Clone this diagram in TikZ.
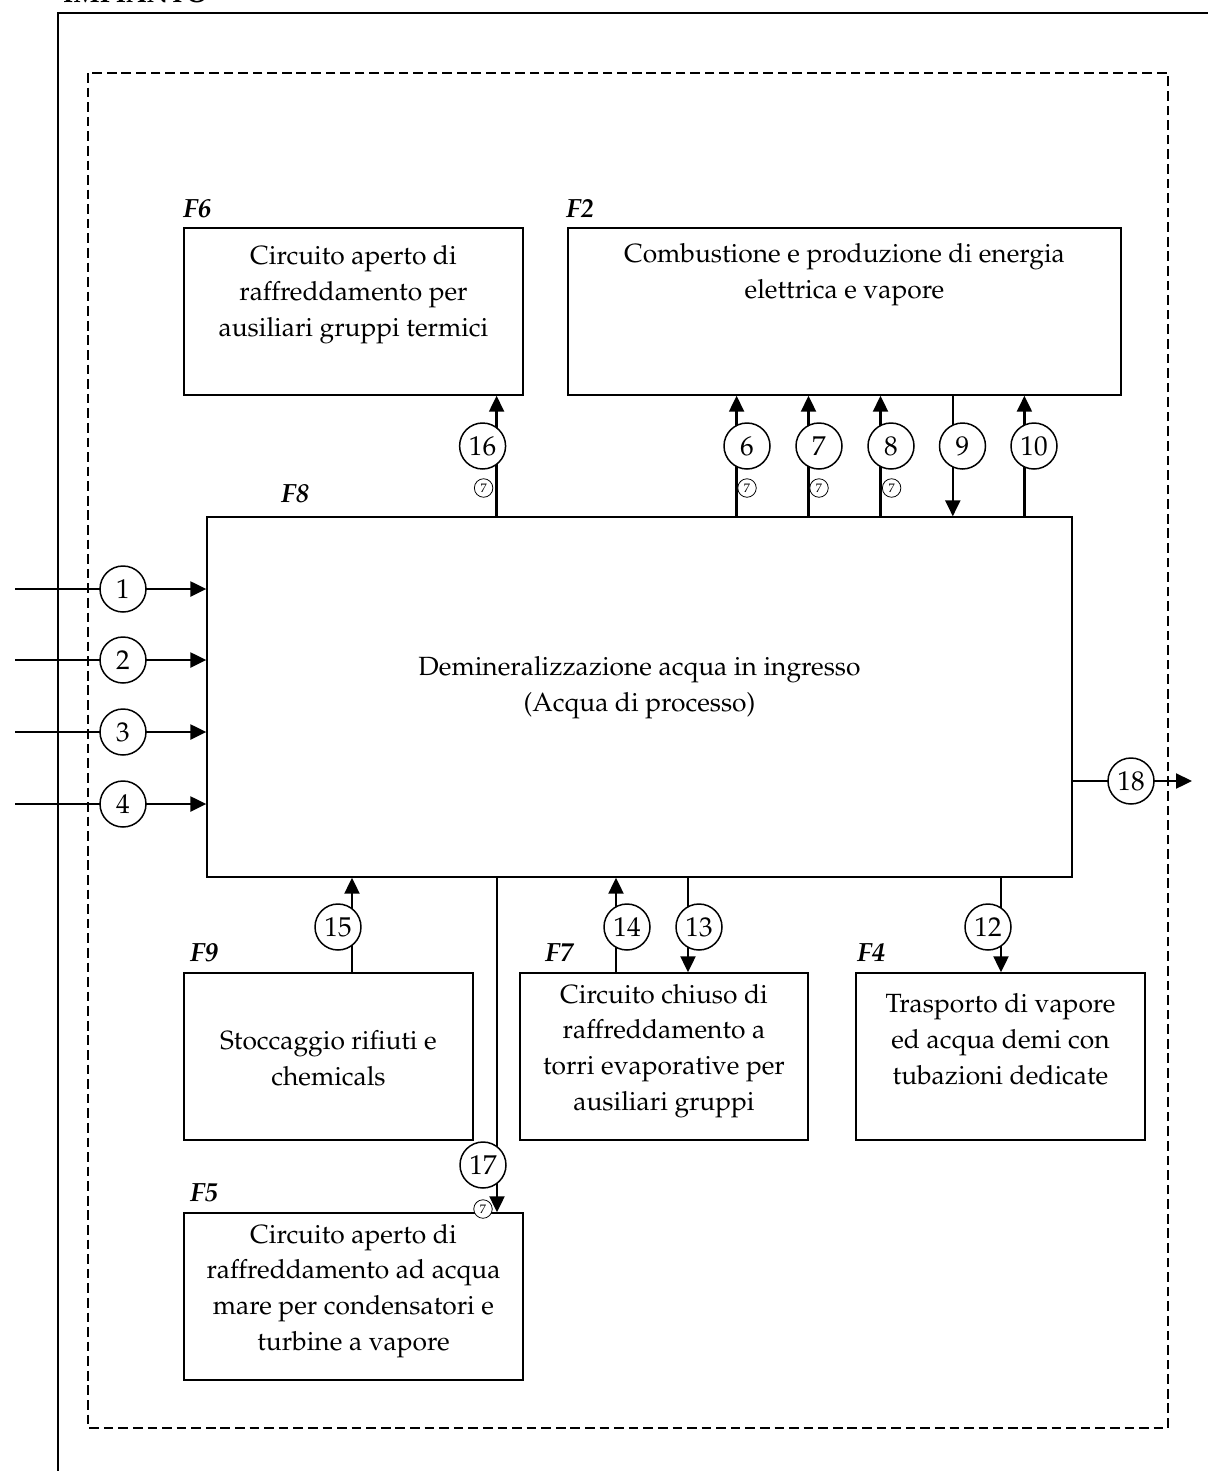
\documentclass[tikz,border=0pt]{standalone}
\usepackage[T1]{fontenc}
\usepackage{mathpazo}
\usetikzlibrary{arrows.meta,calc,backgrounds}

\tikzset{
  blk/.style={draw, line width=0.85pt, inner sep=0pt},
  txt/.style={align=center, font=\fontsize{15}{20.4}\selectfont},
  tag/.style={anchor=base west, font=\fontsize{15}{17}\selectfont\bfseries\itshape},
  num/.style={draw, circle, fill=white, minimum size=0.92cm, inner sep=0pt,
    line width=0.85pt, font=\fontsize{15.5}{17}\selectfont},
  sml/.style={draw, circle, fill=white, minimum size=0.37cm, inner sep=0pt,
    line width=0.45pt, font=\fontsize{7}{8}\selectfont},
  flow/.style={-{Triangle[length=0.32cm,width=0.3cm]}, line width=1.3pt}
}

\begin{document}
\begin{tikzpicture}[x=0.02cm, y=-0.02cm]
\useasboundingbox (0,0) rectangle (1208,1471);

% cornice impianto
\node[anchor=base west, font=\fontsize{15}{17}\selectfont\bfseries] (imp) at (57,2) {IMPIANTO};
\draw[line width=0.9pt] (58,1471) -- (58,13) -- (1208,13);
\draw[line width=0.9pt, dash pattern=on 5.5pt off 2.8pt] (88,73) rectangle (1168,1428);

% blocchi
\node[blk, minimum width=6.78cm, minimum height=3.34cm] (F6) at (353.5,311.5) {};
\node[blk, minimum width=11.06cm, minimum height=3.34cm] (F2) at (844.5,311.5) {};
\node[blk, minimum width=17.3cm, minimum height=7.2cm] (F8) at (639.5,697) {};
\node[blk, minimum width=5.78cm, minimum height=3.34cm] (F9) at (328.5,1056.5) {};
\node[blk, minimum width=5.76cm, minimum height=3.34cm] (F7) at (664,1056.5) {};
\node[blk, minimum width=5.78cm, minimum height=3.34cm] (F4) at (1000.5,1056.5) {};
\node[blk, minimum width=6.78cm, minimum height=3.34cm] (F5) at (353.5,1296.5) {};

\node[txt] (t6) at (353.5,295) {Circuito aperto di\\raffreddamento per\\ausiliari gruppi termici};
\node[txt] (t2) at (844.5,275) {Combustione e produzione di energia\\elettrica e vapore};
\node[txt] (t8) at (639.5,688) {Demineralizzazione acqua in ingresso\\(Acqua di processo)};
\node[txt] (t9) at (328.5,1058) {Stoccaggio rifiuti e\\chemicals};
\node[txt] (t7) at (664,1051) {Circuito chiuso di\\raffreddamento a\\torri evaporative per\\ausiliari gruppi};
\node[txt] (t4) at (1000.5,1039) {Trasporto di vapore\\ed acqua demi con\\tubazioni dedicate};
\node[txt] (t5) at (353.5,1291) {Circuito aperto di\\raffreddamento ad acqua\\mare per condensatori e\\turbine a vapore};

\node[tag] (l6) at (177,217) {F6};
\node[tag] (l2) at (560,217) {F2};
\node[tag] (l8) at (275,502) {F8};
\node[tag] (l9) at (184,961) {F9};
\node[tag] (l7) at (539,961) {F7};
\node[tag] (l4) at (851,961) {F4};
\node[tag] (l5) at (184,1201) {F5};

% numeri
\foreach \i/\y in {1/589,2/660,3/732,4/804}
  \node[num] (n\i) at (123,\y) {\i};
\node[num] (n16) at (482.6,446) {16};
\node[num] (n6) at (747,446) {6};
\node[num] (n7) at (819,446) {7};
\node[num] (n8) at (891,446) {8};
\node[num] (n9) at (962.5,446) {9};
\node[num] (n10) at (1034,446) {10};
\node[num] (n15) at (338,927) {15};
\node[num] (n14) at (627,927) {14};
\node[num] (n13) at (699,927) {13};
\node[num] (n12) at (988,927) {12};
\node[num] (n17) at (483,1165) {17};
\node[num] (n18) at (1131,781) {18};

\node[sml] (s16) at (483.6,488) {7};
\node[sml] (s6) at (747,488) {7};
\node[sml] (s7) at (819,488) {7};
\node[sml] (s8) at (891.6,488) {7};
\node[sml] (s17) at (483,1209) {7};

% collegamenti
\begin{scope}[on background layer]
\foreach \i in {1,2,3,4} {
  \coordinate (in\i) at (15,0 |- n\i);
  \draw[flow] (in\i |- n\i) -- (n\i -| F8.west);
}
\draw[flow] ($(F8.north -| n16)+(14,0)$) -- ($(F6.south -| n16)+(14,0)$);
\draw[flow] ($(F8.north -| n6)+(-10.4,0)$) -- ($(F2.south -| n6)+(-10.4,0)$);
\draw[flow] ($(F8.north -| n7)+(-10.5,0)$) -- ($(F2.south -| n7)+(-10.5,0)$);
\draw[flow] ($(F8.north -| n8)+(-10.5,0)$) -- ($(F2.south -| n8)+(-10.5,0)$);
\draw[flow] ($(F2.south -| n9)+(-9.7,0)$) -- ($(F8.north -| n9)+(-9.7,0)$);
\draw[flow] ($(F8.north -| n10)+(-9.6,0)$) -- ($(F2.south -| n10)+(-9.6,0)$);
\draw[flow] ($(F9.north -| n15)+(14,0)$) -- ($(F8.south -| n15)+(14,0)$);
\draw[flow] ($(F7.north -| n14)+(-11,0)$) -- ($(F8.south -| n14)+(-11,0)$);
\draw[flow] ($(F8.south -| n13)+(-11,0)$) -- ($(F7.north -| n13)+(-11,0)$);
\draw[flow] ($(F8.south -| n12)+(13,0)$) -- ($(F4.north -| n12)+(13,0)$);
\draw[flow] ($(F8.south -| n17)+(14,0)$) -- ($(F5.north -| n17)+(14,0)$);
\coordinate (out18) at (1192,781);
\draw[flow] (n18 -| F8.east) -- (out18);
\end{scope}
\end{tikzpicture}
\end{document}
